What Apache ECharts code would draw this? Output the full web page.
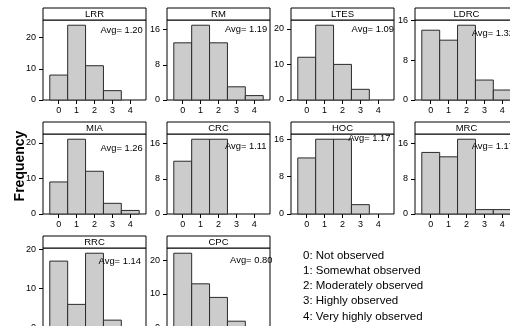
<!DOCTYPE html>
<html>
<head>
<meta charset="utf-8">
<script src="https://cdn.jsdelivr.net/npm/echarts@6/dist/echarts.min.js"></script>
<style>
html,body{margin:0;padding:0;background:#fff;}
#chart{width:510px;height:326px;}
</style>
</head>
<body>
<div id="chart"></div>
<script>
// ---- data ----
const categories = [0, 1, 2, 3, 4];
const panelNames = ['LRR', 'RM', 'LTES', 'LDRC', 'MIA', 'CRC', 'HOC', 'MRC', 'RRC', 'CPC'];
const LRR  = [8, 24, 11, 3, 0];
const RM   = [13, 17, 13, 3, 1];
const LTES = [12, 21, 10, 3, 0];
const LDRC = [14, 12, 15, 4, 2];
const MIA  = [9, 21, 12, 3, 1];
const CRC  = [12, 17, 17, 0, 0];
const HOC  = [12, 16, 16, 2, 0];
const MRC  = [14, 13, 17, 1, 1];
const RRC  = [17, 6, 19, 2, 0];
const CPC  = [22, 13, 9, 2, 0];
const panelCounts = [LRR, RM, LTES, LDRC, MIA, CRC, HOC, MRC, RRC, CPC];
const avgLabels = ['1.20', '1.19', '1.09', '1.32', '1.26', '1.11', '1.17', '1.17', '1.14', '0.80'];
const yTickLabels = [
  [0, 10, 20], [0, 8, 16], [0, 10, 20], [0, 8, 16],
  [0, 10, 20], [0, 8, 16], [0, 8, 16], [0, 8, 16],
  [0, 10, 20], [0, 10, 20]
];
const legendLines = [
  '0: Not observed',
  '1: Somewhat observed',
  '2: Moderately observed',
  '3: Highly observed',
  '4: Very highly observed'
];
const yAxisTitle = 'Frequency';

// ---- annotation anchor (data units: x start, y centre) ----
const avgAnchor = [
  [2.33, 22.4], [2.36, 16.0], [2.51, 19.7], [2.29, 13.4],
  [2.33, 18.4], [2.36, 15.3], [2.32, 16.1], [2.29, 15.3],
  [2.23, 16.9], [2.65, 20.0]
];

// ---- layout ----
const FONT = '"Liberation Sans", Arial, Helvetica, sans-serif';
const colLeft0 = 43, colStep = 124, panelW = 103;
const rowTop0 = 20, rowStep = 114, panelH = 80, stripH = 12;
const nCols = 4;

const grids = [], xAxes = [], yAxes = [], series = [], graphics = [];

panelNames.forEach((name, i) => {
  const c = i % nCols, r = Math.floor(i / nCols);
  const left = colLeft0 + c * colStep;
  const top = rowTop0 + r * rowStep;
  const counts = panelCounts[i];
  const maxC = Math.max.apply(null, counts);
  const ticks = yTickLabels[i];
  grids.push({
    left: left, top: top, width: panelW, height: panelH,
    outerBoundsMode: 'none', containLabel: false,
    show: true, borderColor: '#000', borderWidth: 1, backgroundColor: 'transparent'
  });
  xAxes.push({
    type: 'value', gridIndex: i, min: -0.88, max: 4.88, position: 'bottom',
    splitLine: { show: false }, axisLine: { show: false, onZero: false },
    axisTick: { show: true, length: 4, lineStyle: { color: '#000' }, customValues: categories },
    axisLabel: { show: true, customValues: categories, margin: 6, color: '#000', fontSize: 9, fontFamily: FONT }
  });
  yAxes.push({
    type: 'value', gridIndex: i, min: 0, max: maxC * 1.07, interval: ticks[1] - ticks[0], position: 'left',
    splitLine: { show: false }, axisLine: { show: false, onZero: false },
    axisTick: { show: true, length: 4, lineStyle: { color: '#000' }, customValues: ticks },
    axisLabel: { show: true, customValues: ticks, margin: 7, color: '#000', fontSize: 9, fontFamily: FONT }
  });
  series.push({
    type: 'custom', xAxisIndex: i, yAxisIndex: i, clip: false,
    data: categories.map((k, j) => [k, counts[j]]),
    renderItem: function (params, api) {
      const x = api.value(0), y = api.value(1);
      if (y <= 0) return null;
      const p0 = api.coord([x - 0.5, y]);
      const p1 = api.coord([x + 0.5, 0]);
      return {
        type: 'rect',
        shape: { x: p0[0], y: p0[1], width: p1[0] - p0[0], height: p1[1] - p0[1] },
        style: { fill: '#cccccc', stroke: '#2a2a2a', lineWidth: 1 }
      };
    },
    silent: true, animation: false
  });
  series.push({
    type: 'custom', xAxisIndex: i, yAxisIndex: i, clip: false,
    data: [[avgAnchor[i][0], avgAnchor[i][1]]],
    renderItem: (function (label) {
      return function (params, api) {
        const p = api.coord([api.value(0), api.value(1)]);
        return {
          type: 'text', x: p[0], y: p[1],
          style: { text: 'Avg= ' + label, fill: '#000', font: '9.4px ' + FONT, textAlign: 'left', textVerticalAlign: 'middle' }
        };
      };
    })(avgLabels[i]),
    silent: true, animation: false, z: 5
  });
  // strip
  graphics.push({
    type: 'rect', shape: { x: left, y: top - stripH, width: panelW, height: stripH },
    style: { fill: '#fff', stroke: '#000', lineWidth: 1 }, z: 10
  });
  graphics.push({
    type: 'text', x: left + panelW / 2, y: top - stripH / 2,
    style: { text: name, fill: '#000', font: '9.5px ' + FONT, textAlign: 'center', textVerticalAlign: 'middle' }, z: 11
  });
});

// y axis title
graphics.push({
  type: 'text', x: 20.5, y: 166, rotation: Math.PI / 2,
  style: { text: yAxisTitle, fill: '#000', font: 'bold 14px ' + FONT, textAlign: 'center', textVerticalAlign: 'middle' }
});
// legend lines
legendLines.forEach((t, k) => {
  graphics.push({
    type: 'text', x: 303, y: 255.7 + k * 15.2,
    style: { text: t, fill: '#000', font: '11.5px ' + FONT, textAlign: 'left', textVerticalAlign: 'middle' }
  });
});

const chart = echarts.init(document.getElementById('chart'), null, { renderer: 'canvas' });
chart.setOption({
  animation: false,
  backgroundColor: '#fff',
  grid: grids,
  xAxis: xAxes,
  yAxis: yAxes,
  series: series,
  graphic: { elements: graphics }
});
</script>
</body>
</html>
